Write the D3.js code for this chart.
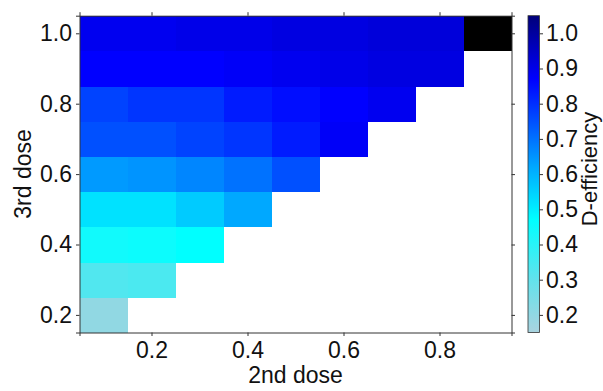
<!DOCTYPE html>
<html>
<head>
<meta charset="utf-8">
<script src="https://cdn.jsdelivr.net/npm/d3@7"></script>
<style>
  html, body { margin: 0; padding: 0; background: #fff; }
  svg { display: block; font-family: "Liberation Sans", Arial, sans-serif; }
</style>
</head>
<body>
<svg id="chart" width="603" height="391"></svg>
<script>
// ---- data ----
const secondDose = [0.1, 0.2, 0.3, 0.4, 0.5, 0.6, 0.7, 0.8, 0.9];
const thirdDose = [0.2, 0.3, 0.4, 0.5, 0.6, 0.7, 0.8, 0.9, 1.0];
// efficiency rows, one per 3rd dose; entry i corresponds to secondDose[i]; null = reference cell (black)
const eff02 = [0.20];
const eff03 = [0.33, 0.34];
const eff04 = [0.44, 0.45, 0.47];
const eff05 = [0.52, 0.52, 0.56, 0.62];
const eff06 = [0.64, 0.65, 0.67, 0.70, 0.75];
const eff07 = [0.75, 0.75, 0.77, 0.79, 0.83, 0.88];
const eff08 = [0.77, 0.79, 0.79, 0.83, 0.85, 0.87, 0.89];
const eff09 = [0.87, 0.87, 0.87, 0.88, 0.89, 0.90, 0.91, 0.91];
const eff10 = [0.89, 0.89, 0.90, 0.90, 0.91, 0.91, 0.92, 0.92, null];
const effRows = [eff02, eff03, eff04, eff05, eff06, eff07, eff08, eff09, eff10];
const xTicks = [0.2, 0.4, 0.6, 0.8];
const yTicks = [0.2, 0.4, 0.6, 0.8, 1.0];
const cbTicks = [0.2, 0.3, 0.4, 0.5, 0.6, 0.7, 0.8, 0.9, 1.0];
const cmapStops = [0.15, 0.30, 0.47, 0.62, 0.75, 0.87, 1.05];
const cmapColors = ["#a9d3df", "#62e2ec", "#00ffff", "#00a8ff", "#0050ff", "#0000ff", "#00007a"];

const cells = [];
effRows.forEach((row, r) => row.forEach((v, c) => cells.push({x: secondDose[c], y: thirdDose[r], v})));

// ---- layout ----
const svg = d3.select("#chart");
const L = 79.5, R = 511.5, T = 15.7, B = 332.5;
const x = d3.scaleLinear().domain([0.05, 0.95]).range([L, R]);
const y = d3.scaleLinear().domain([0.15, 1.05]).range([B, T]);
const color = d3.scaleLinear().domain(cmapStops).range(cmapColors).clamp(true);
const axisColor = "#333";
const fs = 23;

// cells
const cw = x(0.1) - x(0);
const ch = y(0) - y(0.1);
svg.append("g").attr("shape-rendering", "crispEdges").selectAll("rect").data(cells).join("rect")
  .attr("x", d => x(d.x) - cw / 2)
  .attr("y", d => y(d.y) - ch / 2)
  .attr("width", cw + 0.5)
  .attr("height", ch + 0.5)
  .attr("fill", d => d.v == null ? "#000" : color(d.v));

// axes (box with outward ticks)
const tl = 3.5;
const axB = d3.axisBottom(x).tickValues(xTicks).tickFormat(d3.format(".1f")).tickSize(tl).tickPadding(6);
const axT = d3.axisTop(x).tickValues(xTicks).tickFormat("").tickSize(tl);
const axL = d3.axisLeft(y).tickValues(yTicks).tickFormat(d3.format(".1f")).tickSize(tl).tickPadding(4);
const axR = d3.axisRight(y).tickValues(yTicks).tickFormat("").tickSize(tl);

function style(g) {
  g.selectAll("path").attr("stroke", axisColor).attr("stroke-width", 1);
  g.selectAll("line").attr("stroke", axisColor).attr("stroke-width", 1);
  g.selectAll("text").attr("fill", "#111").style("font-size", fs + "px").style("font-family", "Liberation Sans, Arial, sans-serif");
}
svg.append("g").attr("transform", `translate(0,${B})`).call(axB).call(style);
svg.append("g").attr("transform", `translate(0,${T})`).call(axT).call(style);
svg.append("g").attr("transform", `translate(${L},0)`).call(axL).call(style);
svg.append("g").attr("transform", `translate(${R},0)`).call(axR).call(style);

// axis labels
svg.append("text").attr("x", (L + R) / 2).attr("y", 383)
  .attr("text-anchor", "middle").style("font-size", fs + "px").attr("fill", "#111").text("2nd dose");
svg.append("text").attr("transform", `translate(31,174) rotate(-90)`)
  .attr("text-anchor", "middle").style("font-size", fs + "px").attr("fill", "#111").text("3rd dose");

// colorbar
const cbL = 528, cbW = 11.5;
const grad = svg.append("defs").append("linearGradient").attr("id", "cb")
  .attr("x1", 0).attr("y1", 1).attr("x2", 0).attr("y2", 0);
const cbDomain = [0.15, 1.05];
cmapStops.forEach((s, i) => {
  grad.append("stop").attr("offset", (s - cbDomain[0]) / (cbDomain[1] - cbDomain[0]))
    .attr("stop-color", cmapColors[i]);
});
const cy = d3.scaleLinear().domain(cbDomain).range([B, T]);
svg.append("rect").attr("x", cbL).attr("y", cy(1.05)).attr("width", cbW).attr("height", cy(0.15) - cy(1.05))
  .attr("fill", "url(#cb)").attr("stroke", axisColor).attr("stroke-width", 0.8);
const axCB = d3.axisRight(cy).tickValues(cbTicks).tickFormat(d3.format(".1f")).tickSize(3.5).tickPadding(3);
svg.append("g").attr("transform", `translate(${cbL + cbW},0)`).call(axCB).call(style)
  .select("path").remove();
svg.append("text").attr("transform", `translate(597,169) rotate(-90)`)
  .attr("text-anchor", "middle").style("font-size", "22px").attr("fill", "#111").text("D-efficiency");
</script>
</body>
</html>
